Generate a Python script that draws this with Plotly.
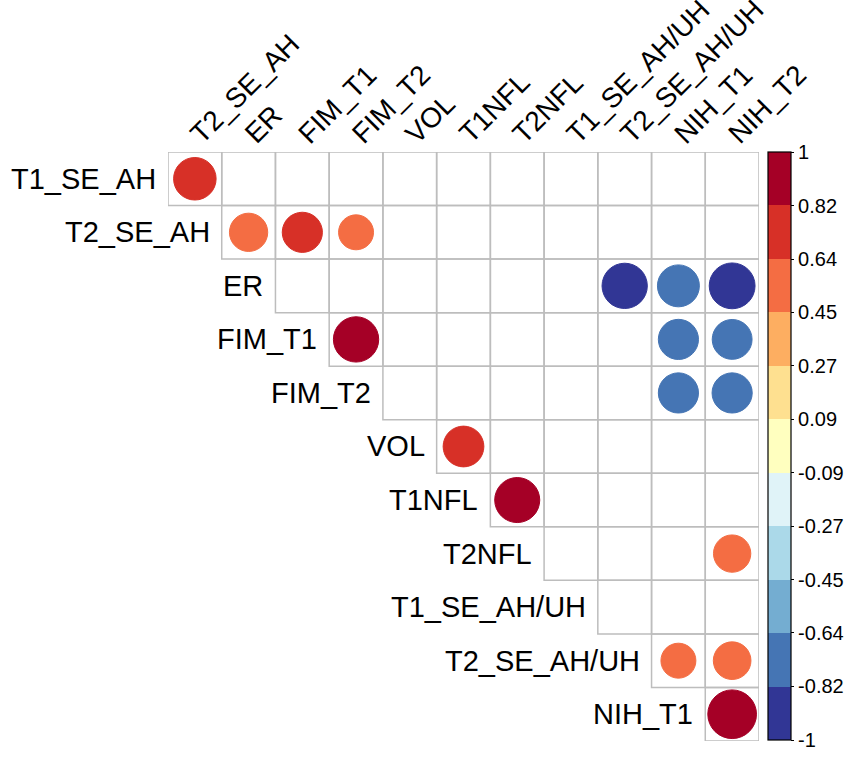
import plotly.graph_objects as go

row_labels = ["T1_SE_AH", "T2_SE_AH", "ER", "FIM_T1", "FIM_T2", "VOL", "T1NFL",
              "T2NFL", "T1_SE_AH/UH", "T2_SE_AH/UH", "NIH_T1"]
col_labels = ["T2_SE_AH", "ER", "FIM_T1", "FIM_T2", "VOL", "T1NFL", "T2NFL",
              "T1_SE_AH/UH", "T2_SE_AH/UH", "NIH_T1", "NIH_T2"]

# significant correlations (row index, column index, r)
pair_row = [0, 1, 1, 1, 2, 2, 2, 3, 3, 3, 4, 4, 5, 6, 7, 9, 9, 10]
pair_col = [0, 1, 2, 3, 8, 9, 10, 3, 9, 10, 9, 10, 5, 6, 10, 9, 10, 10]
pair_r = [0.74, 0.60, 0.66, 0.50, -0.84, -0.72, -0.86, 0.84, -0.66, -0.65,
          -0.66, -0.66, 0.68, 0.83, 0.57, 0.50, 0.58, 0.97]

cbar_vals = [1, 0.818, 0.636, 0.4545, 0.2727, 0.0909, -0.0909, -0.2727,
             -0.4545, -0.636, -0.818, -1]
cbar_text = ["1", "0.82", "0.64", "0.45", "0.27", "0.09", "-0.09", "-0.27",
             "-0.45", "-0.64", "-0.82", "-1"]

bin_colors = ["#313695", "#4575B4", "#74ADD1", "#ABD9E9", "#E0F3F8", "#FFFFBF",
              "#FEE090", "#FDAE61", "#F46D43", "#D73027", "#A50026"]

W, H = 847, 758
gx0, gx1 = 168, 759
gy0, gy1 = 152, 741
n = len(col_labels)
cell_px = (gx1 - gx0) / n

cscale = []
for k, c in enumerate(bin_colors):
    cscale.append([k / len(bin_colors), c])
    cscale.append([(k + 1) / len(bin_colors), c])

sizes = [0.92 * cell_px * abs(r) ** 0.5 for r in pair_r]

fig = go.Figure()
fig.add_trace(go.Scatter(
    x=pair_col, y=pair_row, mode="markers",
    marker=dict(
        size=sizes, color=pair_r, colorscale=cscale, cmin=-1, cmax=1, opacity=1,
        line=dict(width=1, color=pair_r, colorscale=cscale, cmin=-1, cmax=1),
        showscale=True,
        colorbar=dict(
            x=768 / W, xanchor="left", xpad=0,
            y=1 - 740 / H, yanchor="bottom", ypad=0,
            len=(740 - 152) / H, lenmode="fraction",
            thickness=23, thicknessmode="pixels",
            outlinecolor="black", outlinewidth=1.2,
            tickvals=cbar_vals, ticktext=cbar_text,
            ticks="outside", ticklen=3, tickcolor="black",
            tickfont=dict(family="Liberation Sans, Arial", size=20, color="black"),
        ),
    ),
    hoverinfo="skip", showlegend=False,
))

shapes = []
for i in range(len(row_labels)):
    for j in range(i, n):
        shapes.append(dict(type="rect", xref="x", yref="y",
                           x0=j - 0.5, x1=j + 0.5, y0=i - 0.5, y1=i + 0.5,
                           line=dict(color="#BDBDBD", width=1.5),
                           fillcolor="rgba(0,0,0,0)", layer="below"))

annotations = []
for i, lab in enumerate(row_labels):
    annotations.append(dict(x=i - 0.5, y=i, xref="x", yref="y", text=lab,
                            showarrow=False, xanchor="right", yanchor="middle",
                            xshift=-10,
                            font=dict(family="Liberation Sans, Arial", size=29, color="black")))
for j, lab in enumerate(col_labels):
    annotations.append(dict(x=j, y=-0.5, xref="x", yref="y", text=lab,
                            showarrow=False, xanchor="left", yanchor="bottom",
                            textangle=-45, xshift=-13, yshift=0,
                            font=dict(family="Liberation Sans, Arial", size=28, color="black")))

fig.update_layout(
    width=W, height=H,
    margin=dict(l=0, r=0, t=0, b=0),
    paper_bgcolor="white", plot_bgcolor="white",
    xaxis=dict(domain=[gx0 / W, gx1 / W], range=[-0.5, n - 0.5],
               showgrid=False, zeroline=False, showticklabels=False, fixedrange=True),
    yaxis=dict(domain=[1 - gy1 / H, 1 - gy0 / H], range=[len(row_labels) - 0.5, -0.5],
               showgrid=False, zeroline=False, showticklabels=False, fixedrange=True),
    shapes=shapes, annotations=annotations,
)

fig.write_html("out.html", config={"displayModeBar": False},
               post_script="document.body.style.margin='0';document.body.style.overflow='hidden';")
